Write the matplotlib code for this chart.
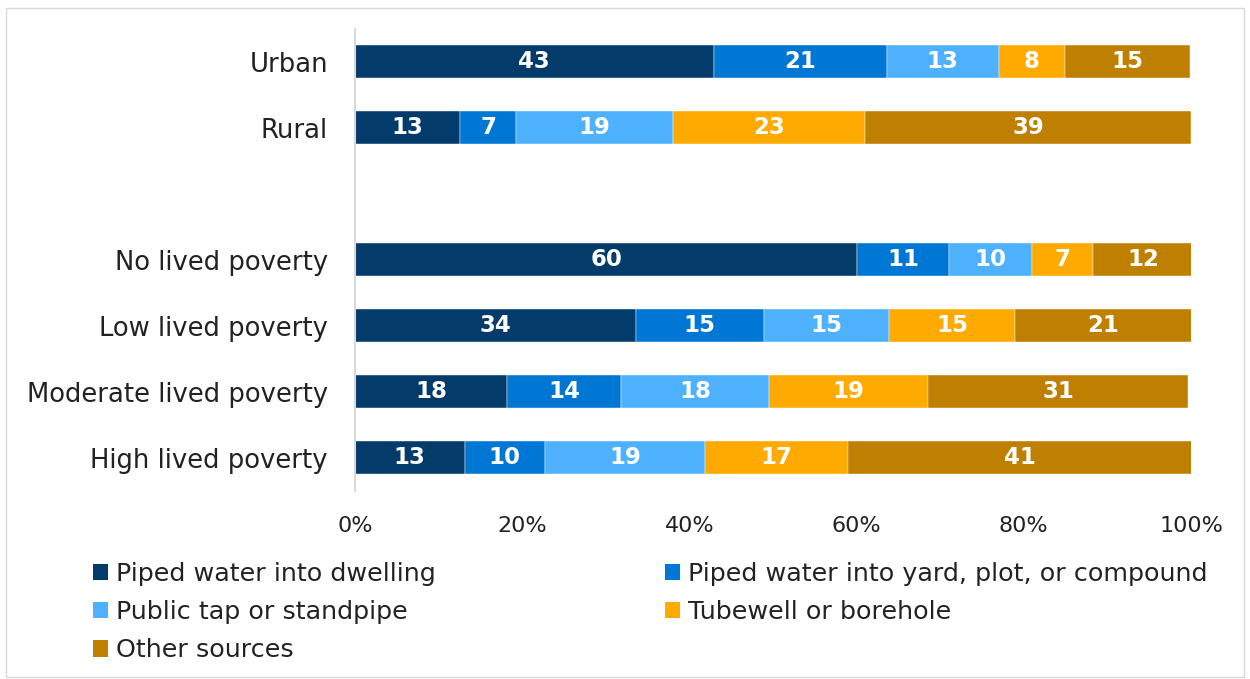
import matplotlib
matplotlib.use("Agg")
import matplotlib.pyplot as plt
from matplotlib.patches import Patch, Rectangle
import numpy as np

categories = ["Urban", "Rural", "No lived poverty", "Low lived poverty",
              "Moderate lived poverty", "High lived poverty"]
positions = [0, 1, 3, 4, 5, 6]
series_names = ["Piped water into dwelling",
                "Piped water into yard, plot, or compound",
                "Public tap or standpipe",
                "Tubewell or borehole",
                "Other sources"]
piped_dwelling = [42.9, 12.6, 60.1, 33.6, 18.2, 13.1]
piped_yard = [20.7, 6.7, 11.0, 15.3, 13.6, 9.6]
public_tap = [13.4, 18.7, 9.9, 15.0, 17.7, 19.2]
tubewell = [7.9, 23.0, 7.3, 15.1, 19.1, 17.1]
other = [15.0, 39.0, 12.0, 21.1, 31.1, 41.1]
colors = ["#033C6B", "#0077D5", "#4DB1FE", "#FEAA00", "#BF7F00"]
xticks = [0, 20, 40, 60, 80, 100]

FONT = "DejaVu Sans"
plt.rcParams["font.family"] = [FONT]

fig = plt.figure(figsize=(12.5, 6.79), dpi=100)
ax = fig.add_axes([0.284, 0.2769, 0.9528 - 0.284, 0.9573 - 0.2769])

data = [piped_dwelling, piped_yard, public_tap, tubewell, other]
left = np.zeros(len(categories))
for vals, col, name in zip(data, colors, series_names):
    vals = np.array(vals)
    ax.barh(positions, vals, left=left, height=0.5, color=col,
            edgecolor="white", linewidth=0.3, label=name)
    for p, l, v in zip(positions, left, vals):
        ax.text(l + v / 2, p, f"{v:.0f}", ha="center", va="center",
                color="white", fontsize=16.5, fontweight="bold")
    left += vals

ax.set_xlim(0, 100)
ax.set_ylim(6.5, -0.5)
ax.set_yticks(positions)
ax.set_yticklabels(categories, fontsize=18.6, color="#222222")
ax.set_xticks(xticks)
ax.set_xticklabels([f"{t}%" for t in xticks], fontsize=16, color="#222222")
ax.tick_params(axis="both", length=0)
ax.tick_params(axis="y", pad=19.5)
ax.tick_params(axis="x", pad=18)
for s in ["top", "right", "bottom"]:
    ax.spines[s].set_visible(False)
ax.spines["left"].set_color("#d9d9d9")
ax.spines["left"].set_linewidth(1.5)

handles = [Patch(facecolor=c, edgecolor="none") for c in colors]
col1 = [0, 2, 4]
col2 = [1, 3]
common = dict(loc="upper left", frameon=False, fontsize=18.3, handlelength=0.6,
              handleheight=0.6, handletextpad=0.3, labelspacing=0.56,
              borderaxespad=0, borderpad=0, labelcolor="#222222")
leg1 = fig.legend([handles[i] for i in col1], [series_names[i] for i in col1],
                  bbox_to_anchor=(93 / 1250, 1 - 562 / 679), **common)
leg2 = fig.legend([handles[i] for i in col2], [series_names[i] for i in col2],
                  bbox_to_anchor=(665 / 1250, 1 - 562 / 679), **common)

fig.add_artist(Rectangle((6 / 1250, 0.003), 1 - 12 / 1250, 1 - 10 / 679,
                         transform=fig.transFigure, fill=False,
                         edgecolor="#d9d9d9", linewidth=1))

fig.savefig("out.png", dpi=100)
